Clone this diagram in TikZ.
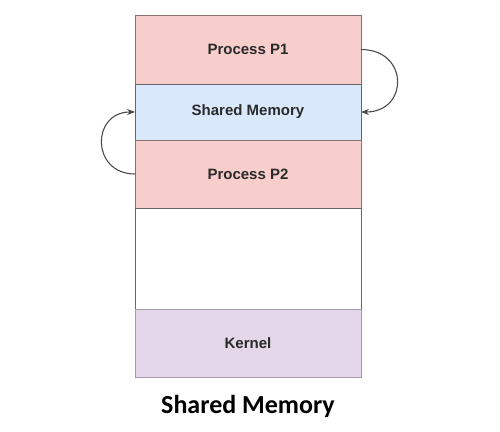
\documentclass[tikz,border=0pt]{standalone}
\usepackage{fontspec}
\setmainfont{Liberation Sans}
\newfontfamily\titlefont{Carlito}
\usepackage{tikz}
\usetikzlibrary{arrows.meta, positioning}
\definecolor{procfill}{HTML}{F8CECC}
\definecolor{procline}{HTML}{8A7070}
\definecolor{shmfill}{HTML}{DAE8FC}
\definecolor{kernfill}{HTML}{E3D7E9}
\definecolor{kernline}{HTML}{A898B0}
\definecolor{inkgray}{HTML}{2A2A2A}

\tikzset{
  segment/.style={draw=#1, line width=0.9pt, minimum width=226pt, inner sep=0pt,
    outer sep=0pt, font=\fontsize{15}{17}\selectfont\bfseries, text=inkgray},
  link/.style={draw=inkgray!85, line width=1.1pt, -{Stealth[length=8pt, width=6pt]}}
}

\begin{document}
\begin{tikzpicture}[x=1pt, y=-1pt]
  \useasboundingbox (0,0) rectangle (500,431);
  \node[segment=procline, fill=procfill, minimum height=69pt] (p1) at (248,49.5) {Process P1};
  \node[segment=gray!80!black, fill=shmfill, minimum height=56pt, below=0pt of p1] (shm) {Shared Memory};
  \node[segment=procline, fill=procfill, minimum height=68pt, below=0pt of shm] (p2) {Process P2};
  \node[segment=gray!80!black, fill=white, minimum height=101pt, below=0pt of p2] (free) {};
  \node[segment=kernline, fill=kernfill, minimum height=68pt, below=0pt of free] (kern) {Kernel};
  % attach arrows
  \draw[link] (p1.east) .. controls +(48pt,0) and +(48pt,0) .. (shm.east);
  \draw[link] (p2.west) .. controls +(-44pt,0) and +(-44pt,0) .. (shm.west);
  \node[font=\titlefont\fontsize{26}{30}\selectfont\bfseries, text=black] (title) at (248,406) {Shared Memory};
\end{tikzpicture}
\end{document}
